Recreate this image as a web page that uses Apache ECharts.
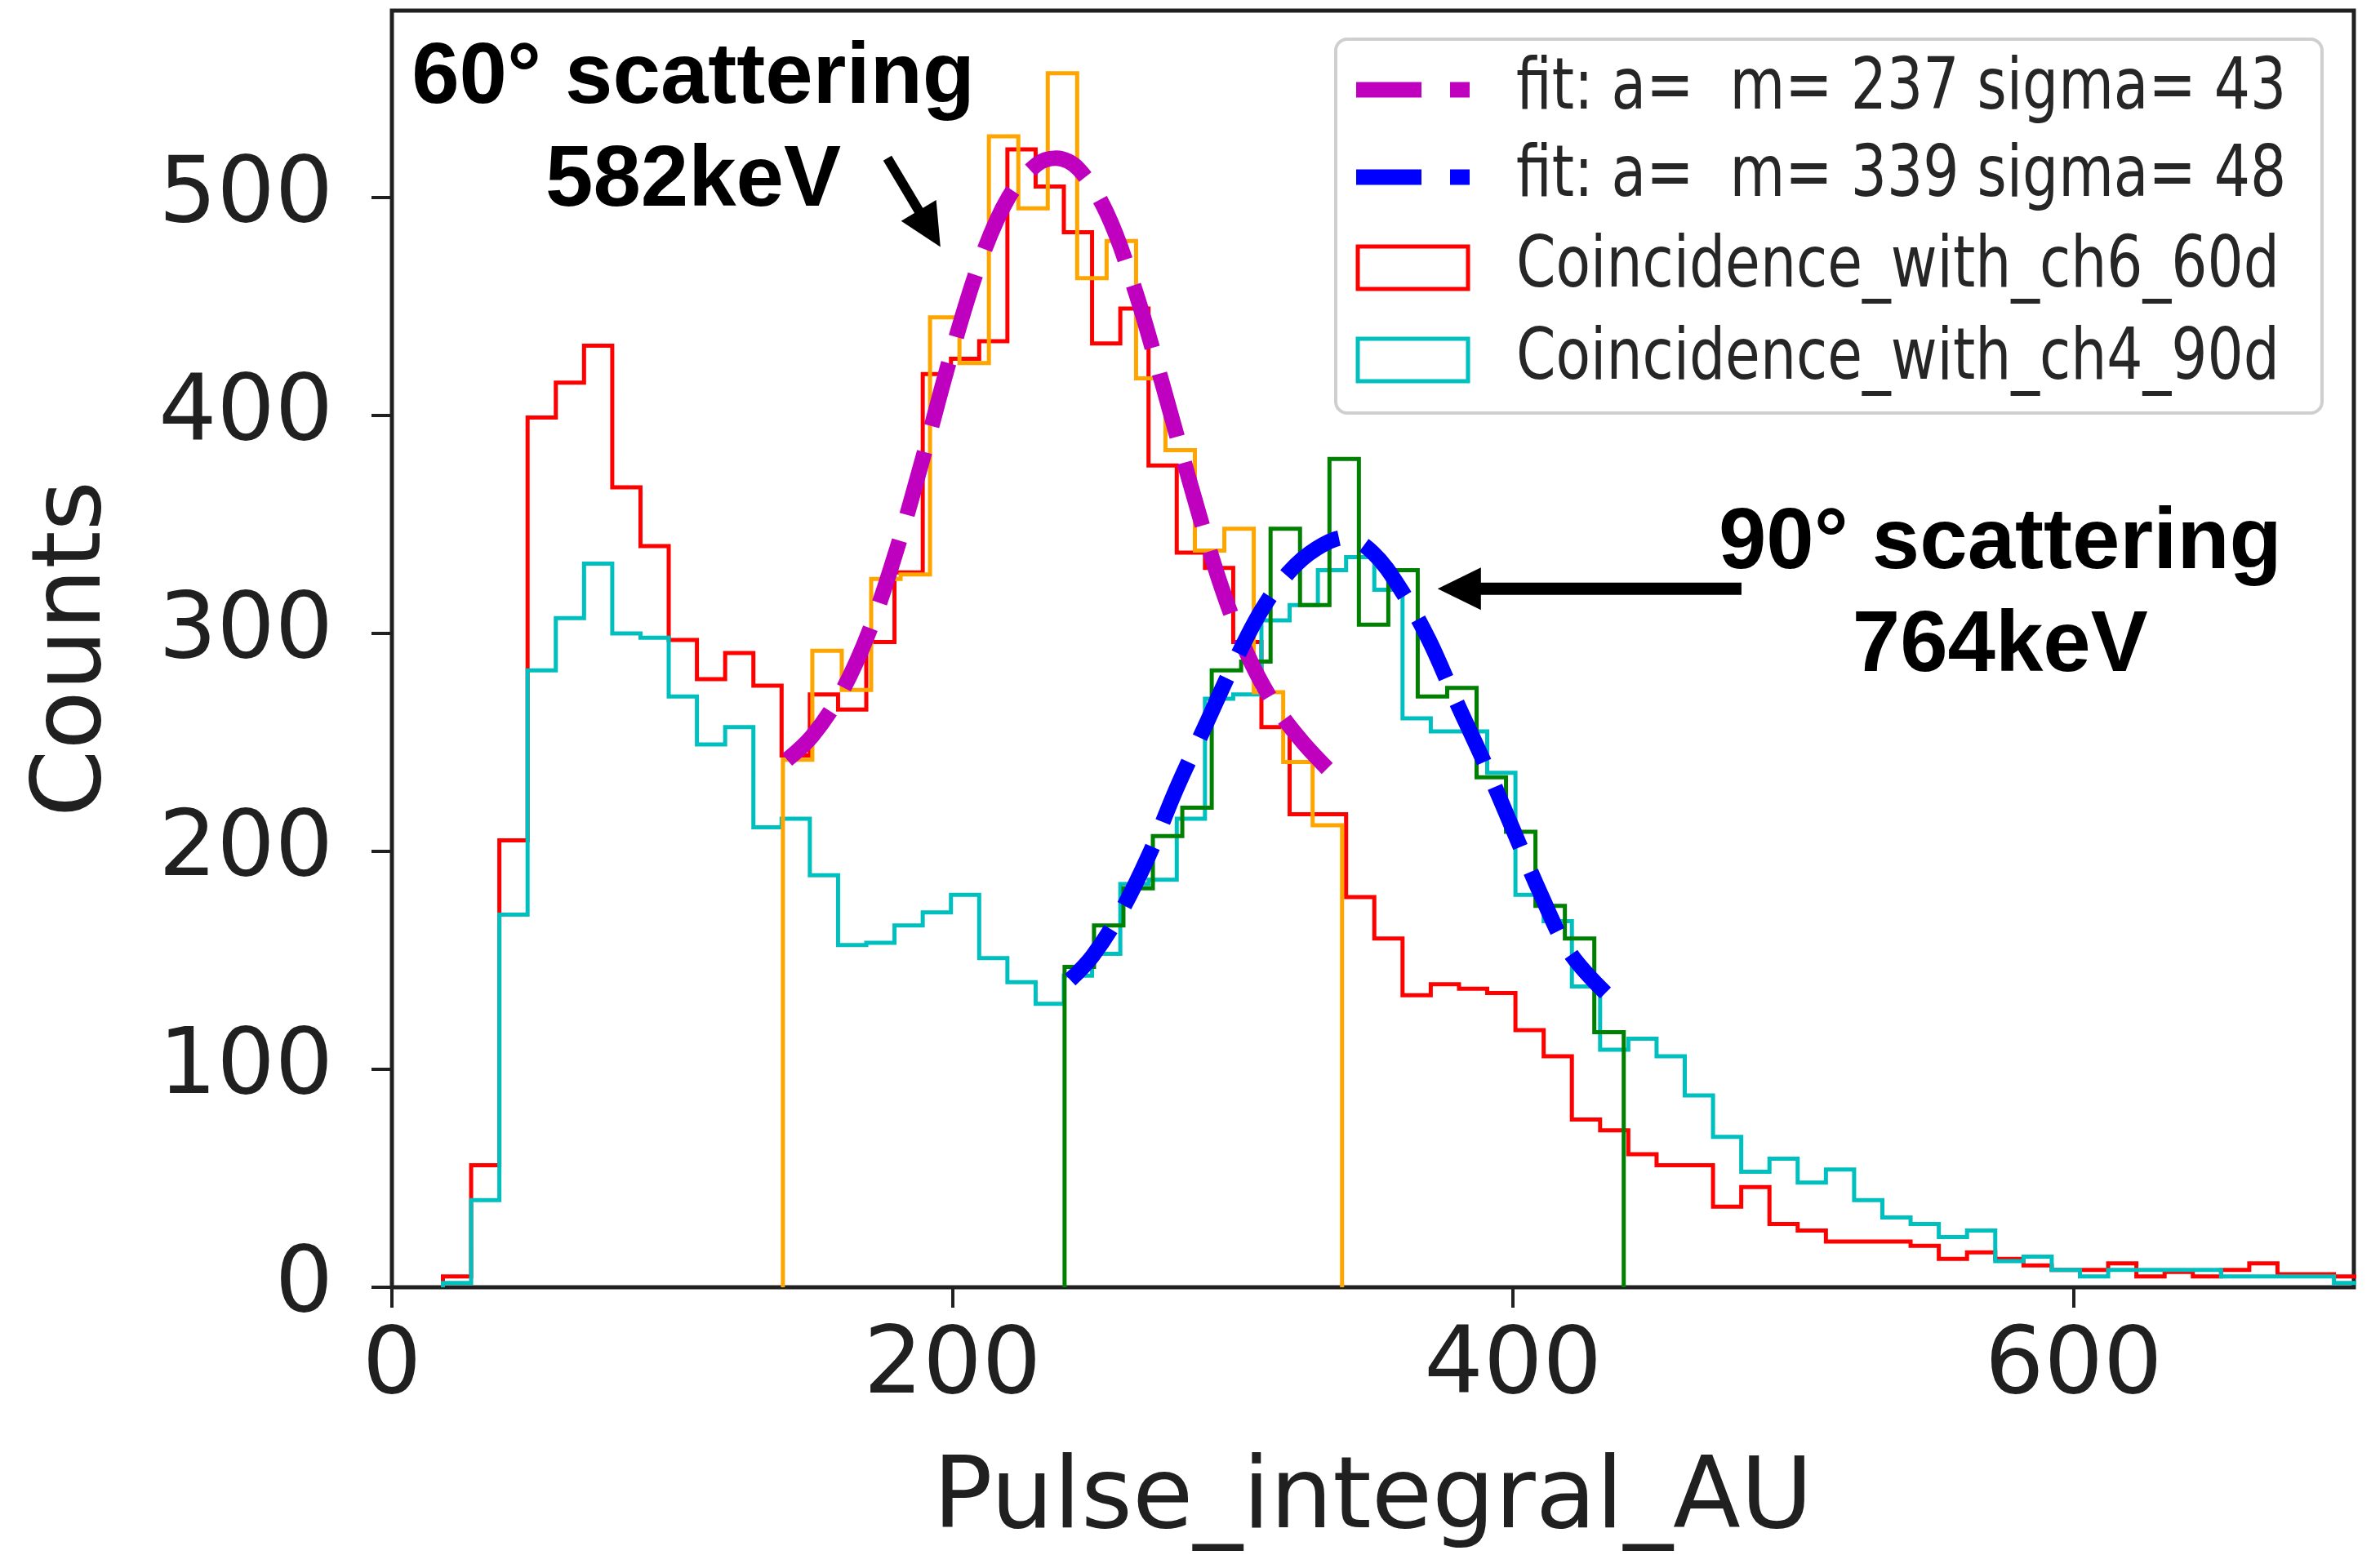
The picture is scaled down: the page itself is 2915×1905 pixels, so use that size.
<!DOCTYPE html>
<html><head><meta charset="utf-8">
<script src="https://cdn.jsdelivr.net/npm/echarts@6/dist/echarts.min.js"></script>
<style>html,body{margin:0;padding:0;background:#fff}#c{width:2915px;height:1905px}</style>
</head><body><div id="c"></div>
<script>
// ---- tick labels ----
const xTickValues = [0, 200, 400, 600];
const yTickValues = [0, 100, 200, 300, 400, 500];

// ---- main histograms (shared bins) ----
const mainBinStart = 18.2;
const mainBinWidth = 10.07;
const ch6Counts = [
  5, 56, 205, 399, 415, 432, 367, 340, 297, 279,
  291, 276, 244, 272, 265, 296, 328, 419, 426, 434,
  522, 505, 484, 433, 449, 377, 337, 330, 296, 257,
  217, 217, 179, 160, 134, 139, 137, 135, 118, 106,
  77, 72, 61, 56, 56, 37, 46, 29, 26, 21,
  21, 21, 19, 13, 16, 13, 10, 8, 8, 11,
  5, 7, 5, 8, 11, 6, 6, 5];
const ch4Counts = [
  2, 40, 171, 283, 307, 332, 300, 298, 271, 249,
  257, 211, 215, 189, 157, 158, 166, 172, 180, 151,
  140, 130, 143, 153, 185, 187, 215, 270, 272, 306,
  313, 329, 335, 320, 261, 255, 255, 236, 180, 168,
  138, 109, 114, 106, 88, 69, 53, 59, 48, 54,
  40, 32, 29, 23, 26, 12, 14, 8, 5, 8,
  8, 8, 8, 5, 5, 5, 5, 2];

// ---- fit-window histograms ----
const windowBinWidth = 10.5;
const peak60BinStart = 139.5;
const peak60Counts = [242, 292, 274, 325, 327, 445, 424, 528, 495, 557, 463, 480, 417, 384, 338, 348, 273, 241, 212];
const peak90BinStart = 240;
const peak90Counts = [147, 166, 183, 207, 220, 283, 287, 348, 313, 380, 304, 329, 271, 275, 234, 209, 175, 160, 117];

// ---- fit curves ----
const fit60X = [141, 150, 160, 170, 180, 190, 200, 210, 220, 230, 237, 245, 255, 265, 275, 285, 295, 305, 315, 325, 336];
const fit60Y = [242, 253, 272, 300, 338, 383, 430, 471, 500, 515, 518, 513, 493, 458, 414, 368, 325, 291, 267, 250, 235];
const fit90X = [242, 250, 260, 270, 280, 290, 300, 310, 320, 330, 340, 350, 360, 370, 380, 390, 400, 410, 420, 433];
const fit90Y = [141, 152, 172, 198, 229, 257, 285, 310, 328, 339, 344, 337, 320, 297, 268, 240, 210, 180, 154, 135];

const legendLabels = ['fit: a=  m= 237 sigma= 43', 'fit: a=  m= 339 sigma= 48', 'Coincidence_with_ch6_60d', 'Coincidence_with_ch4_90d'];
const annot60 = '60° scattering\n582keV';
const annot90 = '90° scattering\n764keV';

function stepOutline(start, width, counts) {
  const pts = [[start, 0]];
  counts.forEach((c, i) => { pts.push([start + i * width, c]); pts.push([start + (i + 1) * width, c]); });
  pts.push([start + counts.length * width, 0]);
  return pts;
}
function zip(xs, ys) { return xs.map((x, i) => [x, ys[i]]); }

const AX = '#202020';
const chart = echarts.init(document.getElementById('c'), null, {renderer: 'canvas'});
const histSeries = (name, data, color) => ({
  name, type: 'line', data, symbol: 'none', animation: false,
  lineStyle: {color, width: 5, join: 'miter'}, itemStyle: {color}
});
const fitSeries = (name, data, color) => ({
  name, type: 'line', data, symbol: 'none', animation: false, smooth: 0.35,
  lineStyle: {color, width: 19, type: [80, 33], cap: 'butt'}, itemStyle: {color}
});

chart.setOption({
  backgroundColor: '#ffffff',
  animation: false,
  grid: {left: 480, right: 32, top: 13, bottom: 320, show: true, borderColor: AX, borderWidth: 5, backgroundColor: 'transparent'},
  xAxis: {
    type: 'value', min: 0, max: 700, interval: 200,
    name: 'Pulse_integral_AU', nameLocation: 'middle', nameGap: 202,
    nameTextStyle: {fontSize: 121, fontFamily: 'DejaVu Sans', color: AX},
    axisLine: {show: false}, splitLine: {show: false},
    axisTick: {show: true, inside: false, length: 25, lineStyle: {color: AX, width: 4}, customValues: xTickValues},
    axisLabel: {fontSize: 114, fontFamily: 'DejaVu Sans', color: AX, margin: 42, customValues: xTickValues}
  },
  yAxis: {
    type: 'value', min: 0, max: 585.7, interval: 100,
    name: 'Counts', nameLocation: 'middle', nameGap: 330, nameRotate: 90,
    nameTextStyle: {fontSize: 118, fontFamily: 'DejaVu Sans', color: AX},
    axisLine: {show: false}, splitLine: {show: false},
    axisTick: {show: true, inside: false, length: 25, lineStyle: {color: AX, width: 4}, customValues: yTickValues},
    axisLabel: {fontSize: 112, fontFamily: 'DejaVu Sans', color: AX, margin: 72, customValues: yTickValues}
  },
  series: [
    histSeries('Coincidence_with_ch6_60d', stepOutline(mainBinStart, mainBinWidth, ch6Counts), '#ff0000'),
    histSeries('Coincidence_with_ch4_90d', stepOutline(mainBinStart, mainBinWidth, ch4Counts), '#00bfbf'),
    histSeries('60d fit window', stepOutline(peak60BinStart, windowBinWidth, peak60Counts), '#ffa500'),
    histSeries('90d fit window', stepOutline(peak90BinStart, windowBinWidth, peak90Counts), '#008000'),
    fitSeries(legendLabels[0], zip(fit60X, fit60Y), '#bf00bf'),
    fitSeries(legendLabels[1], zip(fit90X, fit90Y), '#0000ff')
  ]
});

// ---- annotations & legend ----
const px = (u, c) => chart.convertToPixel({gridIndex: 0}, [u, c]);
function arrow(fromUC, toUC, shaftW, headLen, headW) {
  const p0 = px(fromUC[0], fromUC[1]), p1 = px(toUC[0], toUC[1]);
  const dx = p1[0] - p0[0], dy = p1[1] - p0[1], L = Math.hypot(dx, dy);
  const ux = dx / L, uy = dy / L, nx = -uy, ny = ux;
  const bx = p1[0] - ux * headLen, by = p1[1] - uy * headLen;
  return [
    {type: 'line', z: 100, shape: {x1: p0[0], y1: p0[1], x2: bx + ux * 4, y2: by + uy * 4}, style: {stroke: '#000', lineWidth: shaftW}},
    {type: 'polygon', z: 100, shape: {points: [[p1[0], p1[1]], [bx + nx * headW / 2, by + ny * headW / 2], [bx - nx * headW / 2, by - ny * headW / 2]]}, style: {fill: '#000'}}
  ];
}
const a60 = px(107.5, 578), a90 = px(573.8, 364.5);
const graphics = [
  {type: 'text', z: 100, x: a60[0], y: a60[1], style: {text: annot60, font: 'bold 105px "Liberation Sans", Arial, sans-serif', fill: '#000', align: 'center', verticalAlign: 'top', lineHeight: 126}},
  {type: 'text', z: 100, x: a90[0], y: a90[1], style: {text: annot90, font: 'bold 105px "Liberation Sans", Arial, sans-serif', fill: '#000', align: 'center', verticalAlign: 'top', lineHeight: 126}},
  ...arrow([176.8, 518], [195.7, 477.3], 12, 52, 50),
  ...arrow([481.5, 320.5], [373.1, 320.5], 15, 53, 52)
];
// legend box
const LX = 1636, LY = 48, LW = 1208, LH = 458;
graphics.push({type: 'rect', z: 90, shape: {x: LX, y: LY, width: LW, height: LH, r: 14}, style: {fill: 'rgba(255,255,255,0.85)', stroke: '#cfcfcf', lineWidth: 4}});
const rowY = [110, 217, 328, 441];
const legendColors = ['#bf00bf', '#0000ff', '#ff0000', '#00bfbf'];
legendLabels.forEach((lab, i) => {
  const cy = rowY[i];
  if (i < 2) {
    graphics.push({type: 'line', z: 91, shape: {x1: 1661, y1: cy, x2: 1800, y2: cy}, style: {stroke: legendColors[i], lineWidth: 19, lineDash: [80, 35]}});
  } else {
    graphics.push({type: 'rect', z: 91, shape: {x: 1663, y: cy - 26, width: 135, height: 52}, style: {fill: 'none', stroke: legendColors[i], lineWidth: 5}});
  }
  graphics.push({type: 'text', z: 91, x: 1857, y: cy, scaleX: 0.79, style: {text: lab, x: 0, y: 0, font: '88px "DejaVu Sans"', fill: '#262626', verticalAlign: 'middle', align: 'left'}});
});
chart.setOption({graphic: graphics});
</script>
</body></html>
